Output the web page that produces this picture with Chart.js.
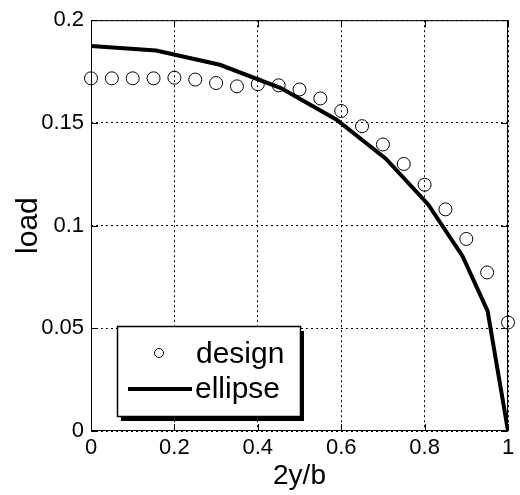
<!DOCTYPE html>
<html>
<head>
<meta charset="UTF-8" />
<title>load vs 2y/b</title>
<script src="https://cdn.jsdelivr.net/npm/chart.js@4"></script>
<style>
  body { margin: 0; background: #fff; }
  #box { width: 520px; height: 495px; }
</style>
</head>
<body>
<div id="box"><canvas id="myChart" width="520" height="495"></canvas></div>
<script>
// design points
const designX = [0, 0.05, 0.1, 0.15, 0.2, 0.25, 0.3, 0.35, 0.4, 0.45, 0.5, 0.55, 0.6, 0.65, 0.7, 0.75, 0.8, 0.85, 0.9, 0.95, 1.0];
const designY = [0.1717, 0.1717, 0.1717, 0.1717, 0.172, 0.1711, 0.1694, 0.1678, 0.1688, 0.1683, 0.1663, 0.1619, 0.1558, 0.1484, 0.1395, 0.130, 0.1199, 0.1079, 0.0935, 0.0772, 0.0528];
// ellipse polyline vertices
const ellipseX = [0, 0.156, 0.309, 0.454, 0.588, 0.707, 0.809, 0.891, 0.951, 1.0];
const ellipseY = [0.1875, 0.1852, 0.1783, 0.1671, 0.1517, 0.1326, 0.1102, 0.0851, 0.0585, 0];
const xTicks = [0, 0.2, 0.4, 0.6, 0.8, 1];
const yTicks = [0, 0.05, 0.1, 0.15, 0.2];

const FONT = 'Liberation Sans, Arial, sans-serif';

function pts(xs, ys) {
  return xs.map((x, i) => ({ x: x, y: ys[i] }));
}

// frame, inward ticks and the boxed legend
const extras = {
  id: 'extras',
  afterDatasetsDraw(chart) {
    const c = chart.ctx;
    const a = chart.chartArea;
    const sx = chart.scales.x, sy = chart.scales.y;
    c.save();
    c.strokeStyle = '#000';
    c.lineWidth = 1;
    c.strokeRect(a.left + 0.5, a.top + 0.5, a.right - a.left - 1, a.bottom - a.top - 1);
    const t = 7;
    c.beginPath();
    xTicks.forEach(v => {
      const p = Math.round(sx.getPixelForValue(v)) + 0.5;
      c.moveTo(p, a.bottom); c.lineTo(p, a.bottom - t);
      c.moveTo(p, a.top); c.lineTo(p, a.top + t);
    });
    yTicks.forEach(v => {
      const p = Math.round(sy.getPixelForValue(v)) + 0.5;
      c.moveTo(a.left, p); c.lineTo(a.left + t, p);
      c.moveTo(a.right, p); c.lineTo(a.right - t, p);
    });
    c.stroke();

    // legend box with shadow
    const lx = 117, ly = 326, lw = 183, lh = 90;
    c.fillStyle = '#000';
    c.fillRect(lx + 4, ly + 5, lw, lh);
    c.fillStyle = '#fff';
    c.fillRect(lx, ly, lw, lh);
    c.lineWidth = 1.5;
    c.strokeRect(lx + 0.5, ly + 0.5, lw, lh);
    c.font = '30px ' + FONT;
    c.fillStyle = '#000';
    c.textBaseline = 'middle';
    c.textAlign = 'left';
    c.lineWidth = 1;
    c.beginPath();
    c.arc(159, 353, 4.5, 0, Math.PI * 2);
    c.stroke();
    c.fillText(chart.data.datasets[0].label, 196, 355);
    c.lineWidth = 4;
    c.beginPath();
    c.moveTo(128, 389); c.lineTo(192, 389);
    c.stroke();
    c.fillText(chart.data.datasets[1].label, 195, 390);
    c.restore();
  }
};

const config = {
  type: 'scatter',
  data: {
    datasets: [{
      label: 'design',
      data: pts(designX, designY),
      pointStyle: 'circle',
      pointRadius: 6.5,
      pointBorderWidth: 1,
      pointBorderColor: '#000',
      pointBackgroundColor: 'rgba(0,0,0,0)',
      showLine: false,
      clip: false
    }, {
      label: 'ellipse',
      data: pts(ellipseX, ellipseY),
      showLine: true,
      borderColor: '#000',
      borderWidth: 4,
      pointRadius: 0,
      tension: 0
    }]
  },
  options: {
    responsive: false,
    animation: false,
    layout: { padding: { top: 14, right: 12, left: 0, bottom: 0 } },
    plugins: {
      legend: { display: false },
      tooltip: { enabled: false }
    },
    scales: {
      x: {
        type: 'linear', min: 0, max: 1,
        afterBuildTicks: s => { s.ticks = xTicks.map(v => ({ value: v })); },
        afterFit: s => { s.height = 64; },
        grid: { color: '#000', lineWidth: 1, drawTicks: false },
        border: { display: false, dash: [2, 3] },
        ticks: { color: '#000', font: { family: FONT, size: 22 }, padding: 4, maxRotation: 0,
          callback: v => String(v) },
        title: { display: true, text: '2y/b', color: '#000', font: { family: FONT, size: 28 }, padding: { top: 0, bottom: 2 } }
      },
      y: {
        type: 'linear', min: 0, max: 0.2,
        afterBuildTicks: s => { s.ticks = yTicks.map(v => ({ value: v })); },
        afterFit: s => { s.width = 91; },
        grid: { color: '#000', lineWidth: 1, drawTicks: false },
        border: { display: false, dash: [2, 3] },
        ticks: { color: '#000', font: { family: FONT, size: 22 }, padding: 7,
          callback: v => String(v) },
        title: { display: true, text: 'load', color: '#000', font: { family: FONT, size: 30 }, padding: { top: 11, bottom: 0 } }
      }
    }
  },
  plugins: [extras]
};

new Chart(document.getElementById('myChart').getContext('2d'), config);
</script>
</body>
</html>
